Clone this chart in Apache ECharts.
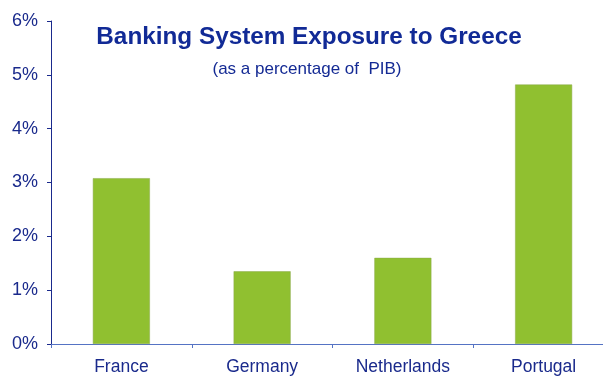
<!DOCTYPE html>
<html>
<head>
<meta charset="utf-8">
<script src="https://cdn.jsdelivr.net/npm/echarts@6/dist/echarts.min.js"></script>
<style>
  html, body { margin: 0; padding: 0; background: #fff; overflow: hidden; }
  /* the original chart is cut off at the right edge, so the canvas is a bit wider than the window */
  #main { width: 615px; height: 378px; }
</style>
</head>
<body>
<div id="main"></div>
<script>
// exposure of each banking system to Greece, % of PIB
var countries = ['France', 'Germany', 'Netherlands', 'Portugal'];
var exposure = [3.08, 1.35, 1.6, 4.82];
var yTicks = [0, 1, 2, 3, 4, 5, 6];

var navy = '#1a2a8c';
var myChart = echarts.init(document.getElementById('main'));
var option = {
    animation: false,
    backgroundColor: '#ffffff',
    title: [{
            text: 'Banking System Exposure to Greece',
            left: 309,
            top: 25,
            textAlign: 'center',
            padding: 0,
            textStyle: {
                fontFamily: 'Liberation Sans',
                fontWeight: 'bold',
                fontSize: 24.3,
                color: '#112a96'
            }
        },
        {
            text: '(as a percentage of  PIB)',
            left: 307,
            top: 61,
            textAlign: 'center',
            padding: 0,
            textStyle: {
                fontFamily: 'Liberation Sans',
                fontWeight: 'normal',
                fontSize: 17,
                color: '#142a94'
            }
        }
    ],
    grid: {
        left: 51,
        top: 21,
        right: 1,
        bottom: 34,
        containLabel: false
    },
    xAxis: {
        type: 'category',
        data: countries,
        axisLine: { lineStyle: { color: '#5573c4', width: 1 } },
        axisTick: { show: true, length: 4, lineStyle: { color: '#5573c4' } },
        axisLabel: {
            margin: 14,
            fontFamily: 'Liberation Sans',
            fontSize: 17.5,
            color: navy
        }
    },
    yAxis: {
        type: 'value',
        min: yTicks[0],
        max: yTicks[yTicks.length - 1],
        interval: 1,
        splitLine: { show: false },
        axisLine: { show: true, lineStyle: { color: navy, width: 1 } },
        axisTick: { show: true, length: 4, lineStyle: { color: navy } },
        axisLabel: {
            margin: 13,
            fontFamily: 'Liberation Sans',
            fontSize: 18,
            color: navy,
            formatter: function(v) { return v + '%'; }
        }
    },
    series: [{
        type: 'bar',
        data: exposure,
        barWidth: '40.5%',
        itemStyle: { color: '#90c030', borderColor: '#8aa84a', borderWidth: 0.5 }
    }]
};
myChart.setOption(option);
</script>
</body>
</html>
